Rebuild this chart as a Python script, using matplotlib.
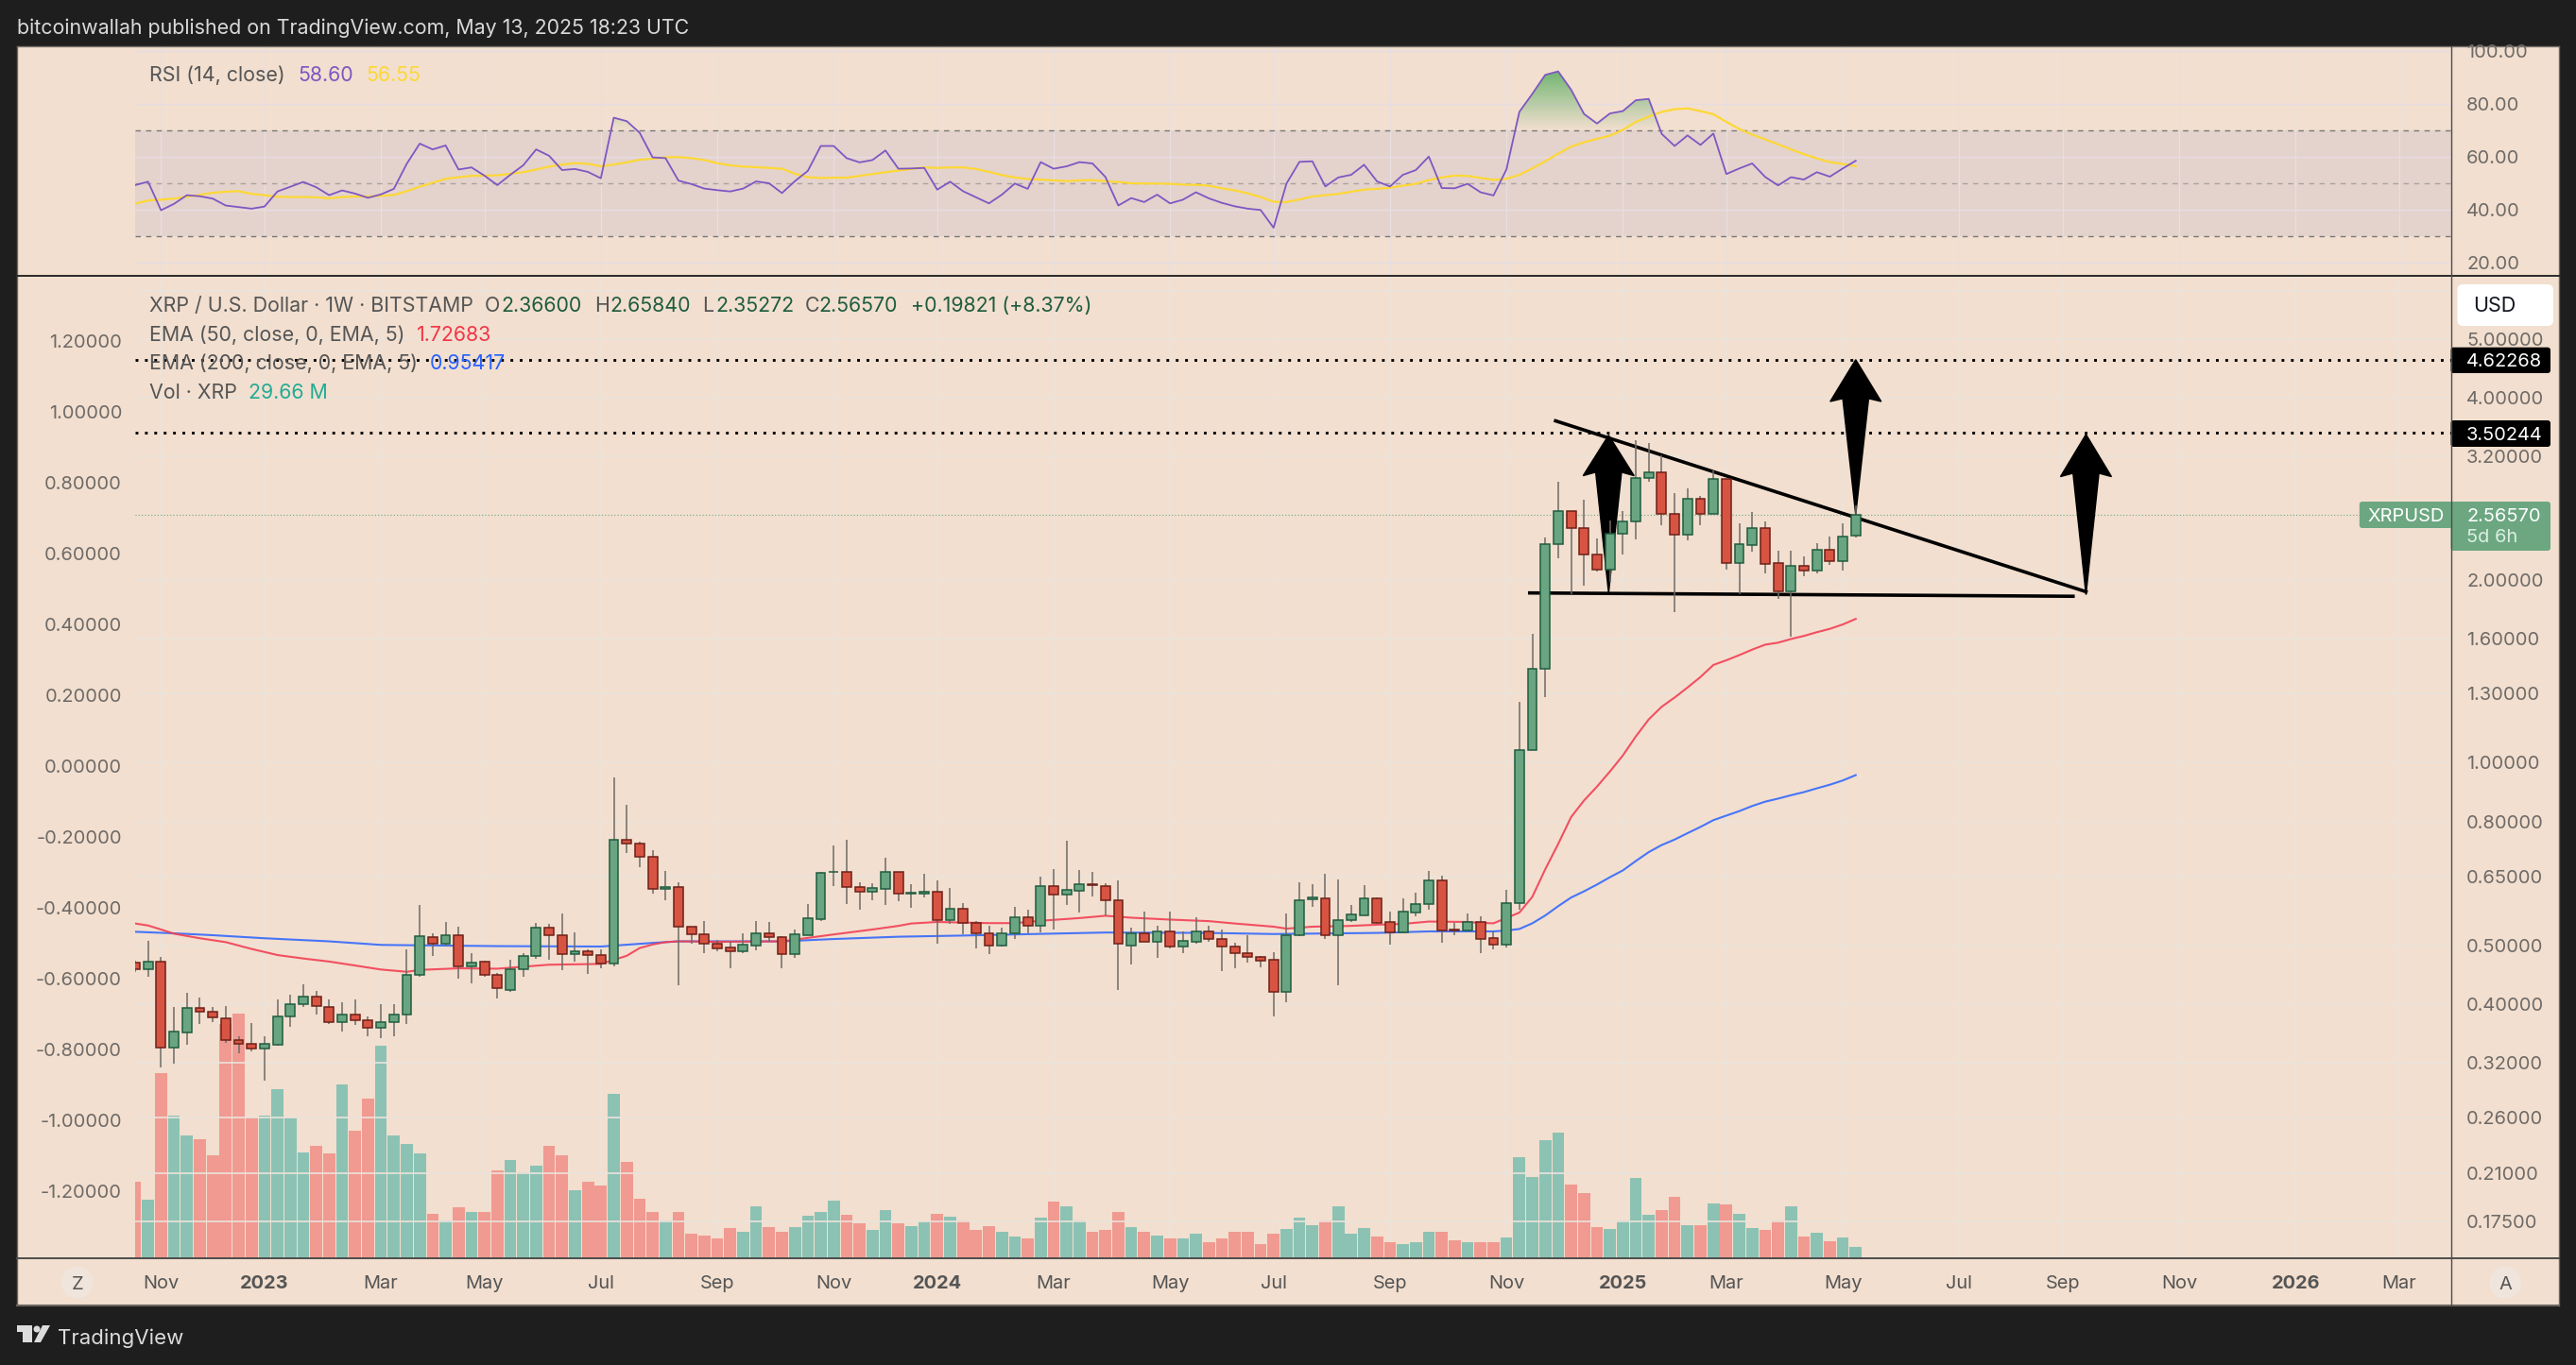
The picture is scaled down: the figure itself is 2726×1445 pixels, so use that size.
import matplotlib
matplotlib.use('Agg')
import matplotlib.pyplot as plt
import numpy as np
from matplotlib.patches import Rectangle, FancyBboxPatch, Polygon, Circle
from matplotlib.path import Path
from matplotlib.ticker import NullLocator
from matplotlib.transforms import IdentityTransform

plt.rcParams['font.family'] = ['Inter', 'DejaVu Sans']

W, H = 2726, 1445

opens = [.4679,.456,.4693,.3385,.3587,.3946,.3878,.3783,.3483,.3437,
         .3376,.3431,.3822,.3994,.4109,.3958,.3728,.3839,.3756,.3650,
         .3728,.3850,.4463,.5150,.5037,.5188,.4623,.4693,.4476,.4224,
         .4560,.4797,.5342,.5188,.4839,.4881,.4825,.4658,.7459,.7350,
         .7009,.6201,.6229,.5358,.5210,.5022,.4954,.4895,.4999,.5225,
         .5150,.4839,.5203,.5528,.6595,.6595,.6229,.6135,.6201,.6595,
         .6074,.6091,.6117,.5496,.5734,.5439,.5225,.4999,.5240,.5552,
         .5390,.6257,.6056,.6154,.6295,.6257,.5925,.4999,.5225,.5075,
         .5263,.4969,.5075,.5263,.5112,.4969,.4860,.4776,.4728,.4182,
         .5188,.5960,.5969,.5188,.5496,.5610,.5969,.5455,.5248,.5666,
         .5839,.6388,.5309,.5293,.5455,.5137,.5015,.5870,1.048,1.430,
         2.296,2.606,2.437,2.204,2.079,2.391,2.501,2.954,3.014,2.575,
         2.382,2.722,2.575,2.941,2.134,2.287,2.437,2.134,1.917,2.109,
         2.074,2.247,2.149,2.366]
highs = [.472,.5082,.4776,.3952,.4170,.4103,.3952,.3964,.3541,.3722,
         .3541,.4067,.4145,.4314,.4206,.4067,.4031,.4067,.3822,.3994,
         .3994,.4924,.5830,.5240,.5455,.5366,.4853,.4713,.4495,.4735,
         .4853,.5447,.5415,.5641,.5248,.4931,.4924,.9444,.8520,.7404,
         .7176,.6625,.6351,.5358,.5488,.5097,.5060,.5232,.5488,.5463,
         .5172,.5309,.5847,.6615,.7307,.7470,.6351,.6332,.6969,.6595,
         .6304,.6557,.6398,.6220,.5873,.5488,.5382,.5350,.5786,.5725,
         .6492,.6676,.7437,.6655,.6604,.6332,.6398,.5350,.5690,.5390,
         .5682,.5278,.5560,.5390,.5301,.5052,.5195,.4797,.4867,.5641,
         .6351,.6304,.6557,.6426,.5830,.6285,.5996,.5690,.5978,.6109,
         .6625,.6511,.5447,.5641,.5585,.5272,.6164,1.262,1.633,2.354,
         2.909,2.606,2.717,2.345,2.508,2.606,3.402,3.365,3.212,2.788,
         2.840,2.756,3.038,2.941,2.480,2.589,2.505,2.235,2.241,2.186,
         2.299,2.364,2.480,2.6584]
lows = [.452,.4443,.3148,.3187,.3431,.3711,.3728,.3457,.3313,.3337,
        .2995,.3416,.3672,.3958,.3850,.3711,.3608,.3689,.3541,.3509,
        .3541,.3711,.4430,.4804,.4999,.4398,.4333,.4443,.4091,.4182,
        .4430,.4748,.4735,.4553,.4700,.4489,.4574,.4623,.7100,.6726,
        .6082,.5934,.4301,.5022,.4860,.4895,.4581,.4860,.4909,.5060,
        .4574,.4769,.5203,.5488,.6267,.5847,.5725,.5934,.5830,.5917,
        .5768,.5987,.5030,.5431,.5210,.4939,.4832,.4969,.5127,.5225,
        .5248,.5309,.5830,.5658,.6023,.5601,.4218,.4651,.5075,.4769,
        .4939,.4853,.5022,.5075,.4534,.4581,.4686,.4595,.3817,.4031,
        .5172,.5786,.5120,.4295,.5463,.5610,.5415,.5015,.5225,.5585,
        .5725,.5052,.5195,.5285,.4853,.4920,.4954,.5722,1.048,1.283,
        2.174,1.900,1.957,2.066,1.991,2.207,2.333,2.909,2.462,1.771,
        2.324,2.469,2.571,2.079,1.895,2.229,2.055,1.863,1.615,2.034,
        2.055,2.122,2.077,2.35272]
closes = [.4560,.4693,.3385,.3598,.3946,.3884,.3800,.3483,.3437,.3376,
          .3437,.3822,.3994,.4109,.3964,.3728,.3839,.3756,.3650,.3728,
          .3850,.4463,.5172,.5037,.5188,.4623,.4679,.4476,.4242,.4560,
          .4797,.5342,.5188,.4839,.4881,.4825,.4665,.7459,.7350,.7009,
          .6201,.6229,.5358,.5210,.5022,.4947,.4895,.5007,.5225,.5150,
          .4839,.5210,.5536,.6576,.6604,.6229,.6135,.6210,.6595,.6074,
          .6109,.6117,.5496,.5734,.5439,.5225,.4999,.5240,.5552,.5390,
          .6257,.6056,.6163,.6295,.6276,.5925,.5022,.5225,.5075,.5278,
          .4969,.5082,.5263,.5112,.4969,.4860,.4776,.4721,.4182,.5195,
          .5942,.5987,.5203,.5496,.5618,.5969,.5447,.5255,.5674,.5839,
          .6388,.5293,.5293,.5455,.5127,.5015,.5870,1.048,1.430,2.296,
          2.606,2.437,2.204,2.079,2.391,2.501,2.954,3.014,2.575,2.382,
          2.722,2.575,2.941,2.134,2.296,2.437,2.128,1.917,2.109,2.074,
          2.247,2.149,2.360,2.5657]

# volume in millions XRP
volumes = [199,154,483,372,322,312,270,612,641,369,
           374,441,369,277,295,273,455,334,417,555,
           322,300,273,115,100,134,120,122,229,258,
           224,243,293,270,179,201,191,431,251,156,
           122,100,122,63,60,51,80,68,137,82,
           70,82,110,122,151,113,92,75,125,92,
           85,96,115,108,98,75,85,68,58,53,
           105,147,137,100,70,73,122,82,70,60,
           51,53,63,43,53,68,70,36,63,77,
           105,87,100,137,63,80,56,43,36,41,
           70,68,46,43,42,42,54,264,212,309,
           328,193,170,82,77,99,210,114,126,161,
           86,86,143,141,116,79,74,99,136,57,
           67,44,54,29.66]

ema50_idx = [0,1,2,3,5,7,9,11,13,15,17,19,21,22,25,28,32,36,38,39,40,41,42,45,50,
             54,57,59,60,62,66,68,70,73,75,77,80,83,85,88,89,91,94,96,98,100,103,104,105,
             107,108,109,110,111,112,113,114,115,116,117,118,119,120,121,122,123,124,125,
             126,127,128,129,130,131,132,133]
ema50 = [.5431,.5390,.5309,.5225,.5135,.5060,.4931,.4818,.4755,.4700,.4630,.4560,.4521,.4553,
         .4581,.4574,.4644,.4658,.4804,.4947,.5015,.5060,.5075,.5067,.5075,
         .5210,.5309,.5382,.5431,.5463,.5439,.5439,.5488,.5544,.5593,.5552,.5512,.5480,.5431,
         .5366,.5326,.5366,.5382,.5406,.5423,.5471,.5463,.5443,.5435,
         .5660,.6009,.6671,.7346,.8136,.8665,.9133,.9673,1.028,1.105,1.179,1.237,1.281,1.331,
         1.385,1.450,1.476,1.505,1.537,1.566,1.578,1.600,1.619,1.642,1.663,1.691,1.72683]

ema200_idx = [0,3,6,10,15,19,22,28,36,40,42,50,54,59,64,68,75,83,88,96,100,105,
              106,107,108,109,110,111,112,113,114,115,116,117,118,119,120,121,122,123,124,125,
              126,127,128,129,130,131,132,133]
ema200 = [.5263,.5232,.5195,.5135,.5075,.5007,.4999,.4984,.4976,.5045,.5075,.5075,.5120,.5165,
          .5188,.5210,.5248,.5240,.5218,.5240,.5270,.5270,
          .5288,.5319,.5435,.5598,.5800,.5994,.6137,.6297,.6475,.6644,.6885,.7122,.7316,.7470,
          .7654,.7838,.8042,.8182,.8322,.8486,.8626,.8727,.8840,.8946,.9075,.9200,.9350,.95417]

rsi = [49.4,50.7,39.9,42.3,45.6,45.2,44.3,41.7,41.1,40.5,
       41.3,47.0,48.8,50.6,48.6,45.6,47.4,46.2,44.6,45.9,
       48.0,57.5,65.1,62.9,64.4,55.3,56.1,53.0,49.4,53.3,
       56.9,62.9,60.5,55.1,55.5,54.4,52.0,74.9,73.6,69.2,
       59.9,59.6,51.1,49.8,48.1,47.5,47.0,48.1,50.8,50.1,
       46.4,50.9,54.8,64.2,64.2,59.6,58.0,58.9,62.5,55.6,
       55.7,55.9,47.7,50.7,47.1,44.8,42.5,45.8,50.0,48.0,
       58.1,55.6,56.5,58.1,57.6,52.5,41.7,44.5,43.0,45.8,
       42.5,43.9,46.7,44.4,42.7,41.4,40.5,40.0,33.3,50.0,
       58.2,58.4,48.9,52.3,53.3,57.1,50.8,48.9,53.3,55.1,
       60.2,48.3,48.2,49.9,46.7,45.5,55.3,77.1,83.9,91.1,
       92.4,85.5,76.3,72.7,76.5,77.4,81.5,82.0,68.8,64.2,
       68.2,64.6,68.9,53.6,55.7,57.6,52.5,49.3,52.4,51.5,
       54.3,52.6,55.7,58.60]
rsi_ma = [42.4,43.6,43.9,44.3,45.0,45.7,46.5,46.9,47.1,46.1,
          45.6,45.0,44.9,44.9,44.8,44.4,44.9,45.1,45.1,45.3,
          45.7,47.1,48.8,50.3,51.8,52.4,52.9,53.0,53.1,53.7,
          54.3,55.3,56.4,57.2,57.7,57.5,56.5,57.2,58.0,59.0,
          59.4,59.9,60.0,59.6,58.9,57.7,56.9,56.4,56.2,55.9,
          55.6,53.7,52.4,52.1,52.2,52.2,52.9,53.6,54.3,54.9,
          55.5,56.1,55.9,56.1,56.1,55.5,54.4,53.2,52.3,51.7,
          51.5,51.2,50.9,51.2,51.3,50.9,50.6,50.1,50.0,50.0,
          49.9,49.6,49.5,49.2,48.2,47.4,46.3,44.9,43.1,43.0,
          44.0,45.1,45.6,46.1,46.9,47.7,48.0,48.4,49.2,49.9,
          51.3,52.3,53.0,52.9,52.1,51.4,51.8,53.3,55.7,58.4,
          61.3,64.0,65.6,66.9,68.1,70.3,73.3,75.3,77.1,78.1,
          78.4,77.4,76.2,73.3,70.6,68.5,66.7,64.8,62.9,61.1,
          59.5,58.1,57.4,56.55]

month_idx = [2,10,19,27,36,45,54,62,71,80,88,97,106,115,123,132,141,149,158,167,175]
month_labels = ['Nov','2023','Mar','May','Jul','Sep','Nov','2024','Mar','May','Jul','Sep',
                'Nov','2025','Mar','May','Jul','Sep','Nov','2026','Mar']

price_ticks = [6.0,5.0,4.0,3.2,2.0,1.6,1.3,1.0,0.8,0.65,0.5,0.4,0.32,0.26,0.21,0.175]
left_ticks = [1.2,1.0,0.8,0.6,0.4,0.2,0.0,-0.2,-0.4,-0.6,-0.8,-1.0,-1.2]
rsi_ticks = [100,80,60,40,20]

levels = [4.62268,3.50244]
last_price = 2.5657

# drawings on the chart, bar index and price
resist_x, resist_y = [109.8,150.8], [3.664,1.915]
support_x, support_y = [107.8,149.8], [1.906,1.882]
arrow_x = [113.9,133.0,150.8]
arrow_tip = [3.470,4.62268,3.481]
arrow_wing = [2.975,3.944,2.965]
arrow_neck = [3.015,3.988,3.003]
arrow_foot = [1.904,2.5657,1.893]

BG = '#f2dfcf'
DARK = '#1e1e1e'
GRID = '#ebe3dc'
UP, UP_EDGE = '#6aa582', '#1f5c3f'
DOWN, DOWN_EDGE = '#d85442', '#6e2018'
VOL_UP, VOL_DOWN = '#8cc2b3', '#f09a91'
TXT = '#555555'
AXTXT = '#6e6a67'


def rect_ax(x0, y0, x1, y1):
    return [x0/W, 1-y1/H, (x1-x0)/W, (y1-y0)/H]


def put(x, y, s, color=TXT, size=15.4, **kw):
    kw.setdefault('ha', 'left')
    fig.text(x/W, 1-y/H, s, color=color, fontsize=size, va='center_baseline', zorder=10, **kw)


def box(x0, y0, x1, y1, color, round_px=0, z=6):
    if round_px:
        p = FancyBboxPatch((x0, H-y1), x1-x0, y1-y0, boxstyle='round,pad=0,rounding_size=%d' % round_px,
                           facecolor=color, edgecolor='none', transform=IdentityTransform(), zorder=z)
    else:
        p = Rectangle((x0, H-y1), x1-x0, y1-y0, facecolor=color, edgecolor='none',
                      transform=IdentityTransform(), zorder=z)
    fig.add_artist(p)


def hline(x0, x1, y, color, lw=1.0, z=7):
    fig.add_artist(plt.Line2D([x0, x1], [H-y, H-y], color=color, lw=lw, transform=IdentityTransform(), zorder=z))


def vline(x, y0, y1, color, lw=1.0, z=7):
    fig.add_artist(plt.Line2D([x, x], [H-y0, H-y1], color=color, lw=lw, transform=IdentityTransform(), zorder=z))


fig = plt.figure(figsize=(W/100, H/100), dpi=100, facecolor=DARK)
box(18, 49, 2708, 1382, BG, z=0)

xs = np.arange(len(closes))
o, h, l, c = map(np.array, (opens, highs, lows, closes))
up = c >= o

# rsi pane
ax_rsi = fig.add_axes(rect_ax(143, 49, 2593.5, 292), zorder=2, facecolor='none')
ax_rsi.axhspan(30, 70, color='#e4d2cd', lw=0, zorder=0)
for m in month_idx:
    ax_rsi.axvline(m, color='#e8dfe0', lw=0.9, zorder=1)
for t in rsi_ticks:
    ax_rsi.axhline(t, color='#e6dde3', lw=1.0, zorder=1)
ax_rsi.axhline(70, color='#787878', lw=1.0, ls=(0, (4, 4)), zorder=2)
ax_rsi.axhline(50, color='#a8a29e', lw=1.0, ls=(0, (4, 4)), zorder=2)
ax_rsi.axhline(30, color='#787878', lw=1.0, ls=(0, (4, 4)), zorder=2)
r = np.array(rsi)
over = ax_rsi.fill_between(xs, 70, r, where=r > 70, interpolate=True, facecolor='none', edgecolor='none')
grad = np.zeros((64, 1, 4))
grad[..., 0], grad[..., 1], grad[..., 2] = 0.45, 0.71, 0.45
grad[:, 0, 3] = np.linspace(0, 1, 64)
im = ax_rsi.imshow(grad, extent=[0, 179, 70, 92.5], origin='lower', aspect='auto', zorder=3)
im.set_clip_path(Path.make_compound_path(*over.get_paths()), transform=ax_rsi.transData)
ax_rsi.plot(xs, rsi_ma, color='#fdd835', lw=1.6, zorder=4)
ax_rsi.plot(xs, rsi, color='#7e57c2', lw=1.3, zorder=5)
ax_rsi.set_xlim(0, 179)
ax_rsi.set_ylim(15.1, 101.9)
ax_rsi.set_xticks([])
ax_rsi.yaxis.tick_right()
ax_rsi.set_yticks(rsi_ticks)
ax_rsi.set_yticklabels(['%.2f' % t for t in rsi_ticks])
ax_rsi.tick_params(axis='y', length=0, pad=12, labelsize=14.4, labelcolor=AXTXT)
for s in ax_rsi.spines.values():
    s.set_visible(False)

# volume sits behind the candles, vertical grid goes with it
ax_vol = fig.add_axes(rect_ax(143, 292, 2593.5, 1332), zorder=1, facecolor='none')
for m in month_idx:
    ax_vol.axvline(m, color=GRID, lw=1.1, zorder=0)
ax_vol.bar(xs, volumes, width=0.93, color=[VOL_UP if u else VOL_DOWN for u in up], lw=0, zorder=2)
ax_vol.set_xlim(0, 179)
ax_vol.set_ylim(0, 2569)
ax_vol.axis('off')

# price pane
ax = fig.add_axes(rect_ax(143, 292, 2593.5, 1332), zorder=2, facecolor='none')
ax.set_yscale('log')
for t in price_ticks:
    ax.axhline(t, color=GRID, lw=1.2, zorder=0)
ax.axhline(last_price, color='#6ca781', lw=0.8, ls=(0, (1, 2)), zorder=1)
for lv in levels:
    ax.axhline(lv, color='black', lw=2.1, ls=(0, (1, 2.4)), zorder=1)

ax.plot(resist_x, resist_y, color='black', lw=2.6, zorder=2)
ax.plot(support_x, support_y, color='black', lw=2.6, zorder=2)
for ax_, tip, wing, neck, foot in zip(arrow_x, arrow_tip, arrow_wing, arrow_neck, arrow_foot):
    ax.add_patch(Polygon([(ax_, tip), (ax_+1.97, wing), (ax_+1.0, neck), (ax_, foot),
                          (ax_-1.0, neck), (ax_-1.97, wing)], closed=True, facecolor='black',
                         edgecolor='black', lw=1, zorder=2))

ax.plot(ema200_idx, ema200, color='#2962ff', lw=1.5, alpha=0.85, zorder=3)
ax.plot(ema50_idx, ema50, color='#f23f55', lw=1.5, alpha=0.9, zorder=3)

ax.vlines(xs, l, h, color='#6f6a66', lw=1.1, zorder=3.5)
bottoms = np.minimum(o, c)
ax.bar(xs, np.abs(c-o), bottom=bottoms, width=0.72, color=[UP if u else DOWN for u in up],
       edgecolor=[UP_EDGE if u else DOWN_EDGE for u in up], linewidth=1.1, zorder=4)

ax.set_xlim(0, 179)
ax.set_ylim(0.1523, 6.356)
ax.set_xticks(month_idx)
ax.set_xticklabels(month_labels)
for lab, name in zip(ax.get_xticklabels(), month_labels):
    if name.isdigit():
        lab.set_fontweight('bold')
ax.tick_params(axis='x', length=0, pad=13, labelsize=14.4, labelcolor=TXT)

ax_left = ax.twinx()
ax_left.set_ylim(-1.389, 1.384)
ax_left.yaxis.tick_left()
ax_left.set_yticks(left_ticks)
ax_left.set_yticklabels(['%.5f' % t for t in left_ticks])
ax_left.tick_params(axis='y', length=0, pad=10, labelsize=14.4, labelcolor=AXTXT)
ax_left.patch.set_visible(False)

# right scale labels, the 6.0 one sits under the USD button so it is left out
ax.yaxis.set_major_locator(NullLocator())
ax.yaxis.set_minor_locator(NullLocator())
for t in price_ticks[1:]:
    ax.text(1.0068, t, '%.5f' % t, transform=ax.get_yaxis_transform(), color=AXTXT, fontsize=14.4,
            va='center_baseline', ha='left', clip_on=False)
for a in (ax, ax_left):
    for s in a.spines.values():
        s.set_visible(False)

# frame lines
hline(18, 2708, 49, '#7a746e', 1.0)
hline(18, 2708, 1382, '#6b6560', 1.5)
vline(18, 49, 1382, '#6b6560', 1.0)
vline(2708, 49, 1382, '#6b6560', 1.0)
hline(18, 2708, 292, '#2a2a2a', 1.4)
hline(18, 2708, 1332, '#4c4c4c', 1.4)
vline(2593.5, 49, 1382, '#4c4c4c', 1.0)

# header and footer
put(18, 28, 'bitcoinwallah published on TradingView.com, May 13, 2025 18:23 UTC', color='#d9d9d9')
put(61, 1415, 'TradingView', color='#dcdcdc', size=16)
fig.add_artist(Polygon([(18, H-1403), (34, H-1403), (34, H-1421), (24, H-1421), (24, H-1410), (18, H-1410)],
                       closed=True, facecolor='#dcdcdc', edgecolor='none', transform=IdentityTransform()))
fig.add_artist(Circle((39, H-1407), 3.5, facecolor='#dcdcdc', edgecolor='none', transform=IdentityTransform()))
fig.add_artist(Polygon([(45, H-1403), (53, H-1403), (43, H-1421), (36, H-1421)],
                       closed=True, facecolor='#dcdcdc', edgecolor='none', transform=IdentityTransform()))

# legends
put(158, 78, 'RSI (14, close)')
put(315, 78, '58.60', color='#7e57c2')
put(387, 78, '56.55', color='#fdd835')
put(158, 322, 'XRP / U.S. Dollar · 1W · BITSTAMP')
for x, letter, xv, val in [(512.6, 'O', 530, '2.36600'), (628.7, 'H', 645, '2.65840'),
                           (743.5, 'L', 757, '2.35272'), (852, 'C', 866, '2.56570')]:
    put(x, 322, letter)
    put(xv, 322, val, color=UP_EDGE)
put(963.6, 322, '+0.19821 (+8.37%)', color=UP_EDGE)
put(158, 353, 'EMA (50, close, 0, EMA, 5)')
put(441, 353, '1.72683', color='#f23645')
put(158, 383, 'EMA (200, close, 0, EMA, 5)')
put(455, 383, '0.95417', color='#2962ff')
put(158, 414, 'Vol · XRP')
put(263, 414, '29.66 M', color='#22ab94')

# scale tags
box(2600.5, 301, 2702, 345, 'white', 6)
put(2617, 322, 'USD', color='#131722', size=15.5)
box(2593.5, 367.7, 2699, 395, 'black', 3)
put(2610, 381, '4.62268', color='white', size=14.4)
box(2593.5, 445, 2699, 473, 'black', 3)
put(2610, 459, '3.50244', color='white', size=14.4)
box(2496.8, 531, 2600, 559, '#6ca781', 3)
put(2505, 545, 'XRPUSD', color='white', size=14.4)
box(2593.5, 531, 2699, 583, '#6ca781', 3, z=6.5)
put(2610, 545, '2.56570', color='white', size=14.4)
put(2610, 567.5, '5d 6h', color='#dcefe2', size=14.4)

# scale buttons
fig.add_artist(Circle((81.7, H-1357.7), 17, facecolor='#efe5dc', edgecolor='none',
                      transform=IdentityTransform(), zorder=6))
put(81.7, 1358, 'Z', ha='center', size=14.4)
fig.add_artist(Circle((2651, H-1357.7), 17, facecolor='#efe5dc', edgecolor='none',
                      transform=IdentityTransform(), zorder=6))
put(2651, 1358, 'A', ha='center', size=14.4)

fig.savefig('out.png', dpi=100)
